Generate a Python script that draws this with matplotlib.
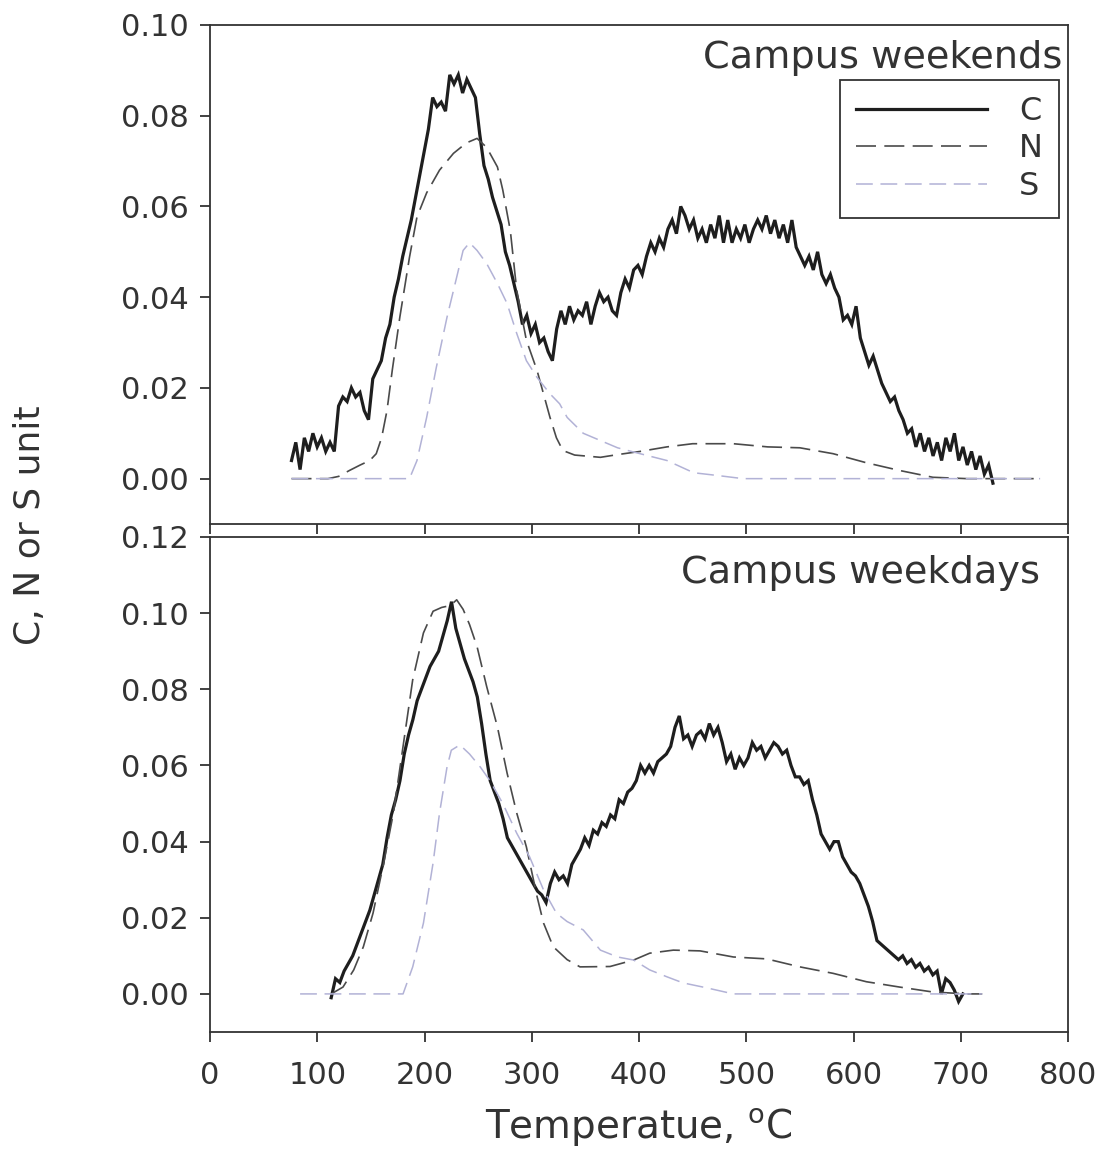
import numpy as np
import matplotlib
matplotlib.use("Agg")
import matplotlib.pyplot as plt
from matplotlib.ticker import FormatStrFormatter, MultipleLocator

# ---------------- data ----------------
# Top panel: Campus weekends, C curve sampled every ~4 degC from 76 to 730
top_c = [0.004, 0.008, 0.002, 0.009, 0.006, 0.010, 0.007, 0.009, 0.006, 0.008,
         0.006, 0.016, 0.018, 0.017, 0.020, 0.018, 0.019, 0.015, 0.013, 0.022,
         0.024, 0.026, 0.031, 0.034, 0.040, 0.044, 0.049, 0.053, 0.057, 0.062,
         0.067, 0.072, 0.077, 0.084, 0.082, 0.083, 0.081, 0.089, 0.087, 0.089,
         0.085, 0.088, 0.086, 0.084, 0.076, 0.069, 0.066, 0.062, 0.059, 0.056,
         0.050, 0.047, 0.043, 0.039, 0.034, 0.036, 0.032, 0.034, 0.030, 0.031,
         0.028, 0.026, 0.033, 0.037, 0.034, 0.038, 0.035, 0.037, 0.036, 0.039,
         0.034, 0.038, 0.041, 0.039, 0.040, 0.037, 0.036, 0.041, 0.044, 0.042,
         0.046, 0.047, 0.045, 0.049, 0.052, 0.050, 0.053, 0.051, 0.055, 0.057,
         0.054, 0.060, 0.058, 0.055, 0.057, 0.053, 0.055, 0.052, 0.056, 0.053,
         0.058, 0.052, 0.057, 0.052, 0.055, 0.053, 0.056, 0.052, 0.055, 0.057,
         0.055, 0.058, 0.054, 0.057, 0.053, 0.056, 0.052, 0.057, 0.051, 0.049,
         0.047, 0.049, 0.046, 0.050, 0.045, 0.043, 0.045, 0.042, 0.040, 0.035,
         0.036, 0.034, 0.038, 0.031, 0.028, 0.025, 0.027, 0.024, 0.021, 0.019,
         0.017, 0.018, 0.015, 0.013, 0.010, 0.011, 0.007, 0.010, 0.006, 0.009,
         0.005, 0.008, 0.004, 0.009, 0.006, 0.010, 0.004, 0.007, 0.003, 0.006,
         0.002, 0.005, 0.001, 0.003, -0.001]
top_c_start, top_c_end = 76, 730

top_n_T = [76, 110, 120, 130, 140, 149, 155, 160, 165, 170, 177, 186, 193, 202,
           214, 227, 239, 249, 258, 268, 273, 280, 286, 295, 305, 317, 323, 329,
           340, 364, 380, 401, 426, 450, 488, 520, 550, 581, 612, 643, 674, 706, 774]
top_n = [0, 0, 0.0005, 0.0018, 0.003, 0.004, 0.0055, 0.009, 0.015, 0.024, 0.0356,
         0.0488, 0.0577, 0.063, 0.068, 0.0717, 0.074, 0.075, 0.073, 0.0687, 0.0636,
         0.0547, 0.0415, 0.0305, 0.0238, 0.0135, 0.009, 0.0062, 0.0052, 0.0047,
         0.0053, 0.006, 0.007, 0.0077, 0.0077, 0.007, 0.0068, 0.0055, 0.0035,
         0.0018, 0.0003, 0, 0]

top_s_T = [76, 186, 193, 202, 211, 221, 230, 236, 242, 249, 258, 268, 277, 286,
           295, 305, 317, 326, 333, 348, 364, 380, 401, 426, 451, 473, 497, 774]
top_s = [0, 0, 0.004, 0.0135, 0.0245, 0.0356, 0.0444, 0.0503, 0.052, 0.0503,
         0.0474, 0.043, 0.0386, 0.032, 0.026, 0.0223, 0.0187, 0.0165, 0.0135,
         0.010, 0.0084, 0.0068, 0.0055, 0.004, 0.0013, 0.0007, 0, 0]

# Bottom panel: Campus weekdays, C curve sampled every ~4 degC from 113 to 702
bot_c = [-0.001, 0.004, 0.003, 0.006, 0.008, 0.010, 0.013, 0.016, 0.019, 0.022,
         0.026, 0.030, 0.034, 0.041, 0.047, 0.051, 0.056, 0.063, 0.068, 0.072,
         0.077, 0.080, 0.083, 0.086, 0.088, 0.090, 0.094, 0.098, 0.103, 0.096,
         0.092, 0.088, 0.085, 0.082, 0.078, 0.071, 0.063, 0.056, 0.053, 0.050,
         0.046, 0.041, 0.039, 0.037, 0.035, 0.033, 0.031, 0.029, 0.027, 0.026,
         0.024, 0.029, 0.032, 0.030, 0.031, 0.029, 0.034, 0.036, 0.038, 0.041,
         0.039, 0.043, 0.042, 0.045, 0.044, 0.047, 0.046, 0.051, 0.050, 0.053,
         0.054, 0.056, 0.060, 0.058, 0.060, 0.058, 0.061, 0.062, 0.063, 0.065,
         0.070, 0.073, 0.067, 0.068, 0.065, 0.068, 0.069, 0.067, 0.071, 0.068,
         0.070, 0.066, 0.061, 0.063, 0.059, 0.062, 0.060, 0.062, 0.066, 0.064,
         0.065, 0.062, 0.064, 0.066, 0.065, 0.063, 0.064, 0.060, 0.057, 0.057,
         0.055, 0.056, 0.051, 0.047, 0.042, 0.040, 0.038, 0.040, 0.040, 0.036,
         0.034, 0.032, 0.031, 0.029, 0.026, 0.023, 0.019, 0.014, 0.013, 0.012,
         0.011, 0.010, 0.009, 0.010, 0.008, 0.009, 0.007, 0.008, 0.006, 0.007,
         0.005, 0.006, 0.000, 0.004, 0.003, 0.001, -0.002, 0.000]
bot_c_start, bot_c_end = 113, 702

bot_n_T = [113, 124, 134, 143, 152, 162, 171, 180, 189, 199, 208, 216, 224, 230,
           236, 242, 249, 258, 268, 277, 286, 295, 305, 311, 320, 333, 345, 373,
           395, 410, 432, 457, 488, 519, 550, 581, 612, 643, 674, 706, 720]
bot_n = [0, 0.0018, 0.0063, 0.0124, 0.0212, 0.0344, 0.0475, 0.065, 0.0825, 0.0948,
         0.1005, 0.1015, 0.102, 0.1035, 0.101, 0.097, 0.0912, 0.0807, 0.0701,
         0.058, 0.0475, 0.0386, 0.0255, 0.0186, 0.0124, 0.009, 0.0071, 0.0072,
         0.0089, 0.0107, 0.0115, 0.0113, 0.0097, 0.0092, 0.0071, 0.0054, 0.0032,
         0.0018, 0.0005, 0, 0]

bot_s_T = [84, 180, 189, 199, 208, 214, 221, 225, 233, 242, 252, 261, 273, 286,
           298, 311, 323, 333, 348, 364, 380, 395, 410, 426, 441, 463, 488, 720]
bot_s = [0, 0, 0.0071, 0.0186, 0.0344, 0.0475, 0.0596, 0.064, 0.0654, 0.063,
         0.0596, 0.056, 0.050, 0.0422, 0.036, 0.0273, 0.0212, 0.019, 0.0168,
         0.0115, 0.0097, 0.0089, 0.0063, 0.0045, 0.0029, 0.0016, 0, 0]

series_labels = ["C", "N", "S"]
panel_titles = ["Campus weekends", "Campus weekdays"]
x_ticks = [0, 100, 200, 300, 400, 500, 600, 700, 800]

# ---------------- styling ----------------
plt.rcParams['font.family'] = ['DejaVu Sans']
TXT = "#333333"
C_COL = "#1e1e1e"
N_COL = "#4a4a4a"
S_COL = "#b2b2d6"

fig = plt.figure(figsize=(11.01, 11.56), dpi=100)
ax1 = fig.add_axes([0.19074, 0.5467, 0.77929, 0.4317])
ax2 = fig.add_axes([0.19074, 0.10727, 0.77929, 0.4282])


def draw(ax, c, c0, c1, nT, n, sT, s):
    cT = np.linspace(c0, c1, len(c))
    lc, = ax.plot(cT, c, color=C_COL, lw=2.3, solid_joinstyle='miter')
    ln, = ax.plot(nT, n, color=N_COL, lw=1.2, dashes=(12, 5))
    ls, = ax.plot(sT, s, color=S_COL, lw=1.1, dashes=(11, 5))
    return lc, ln, ls


h = draw(ax1, top_c, top_c_start, top_c_end, top_n_T, top_n, top_s_T, top_s)
draw(ax2, bot_c, bot_c_start, bot_c_end, bot_n_T, bot_n, bot_s_T, bot_s)

for ax in (ax1, ax2):
    ax.set_xlim(0, 800)
    ax.set_xticks(x_ticks)
    ax.yaxis.set_major_locator(MultipleLocator(0.02))
    ax.yaxis.set_major_formatter(FormatStrFormatter('%.2f'))
    for sp in ax.spines.values():
        sp.set_color(TXT)
        sp.set_linewidth(1.3)
    ax.tick_params(direction='out', length=7, width=1.3, color=TXT,
                   labelsize=22, labelcolor=TXT, pad=8)

ax1.set_ylim(-0.01, 0.10)
ax2.set_ylim(-0.01, 0.12)
ax1.tick_params(axis='x', labelbottom=False)
ax2.tick_params(axis='x', pad=14)

ax1.text(0.993, 0.9137, panel_titles[0], transform=ax1.transAxes,
         ha='right', va='baseline', fontsize=27.5, color=TXT)
ax2.text(0.967, 0.907, panel_titles[1], transform=ax2.transAxes,
         ha='right', va='baseline', fontsize=27.5, color=TXT)

leg = ax1.legend(h, series_labels, loc='upper right',
                 bbox_to_anchor=(0.9895, 0.8896), borderaxespad=0,
                 fontsize=23, handlelength=4.1, handletextpad=1.0,
                 labelspacing=0.2, borderpad=0.5, fancybox=False,
                 framealpha=1, edgecolor=TXT)
leg.get_frame().set_linewidth(1.3)
for t in leg.get_texts():
    t.set_color(TXT)

fig.text(0.58, 0.024, "Temperatue, $^{\\mathregular{o}}$C", ha='center',
         va='center', fontsize=28, color=TXT)
fig.text(0.027, 0.546, "C, N or S unit", ha='center', va='center',
         rotation=90, fontsize=26, color=TXT)

fig.savefig("out.png", dpi=100)
